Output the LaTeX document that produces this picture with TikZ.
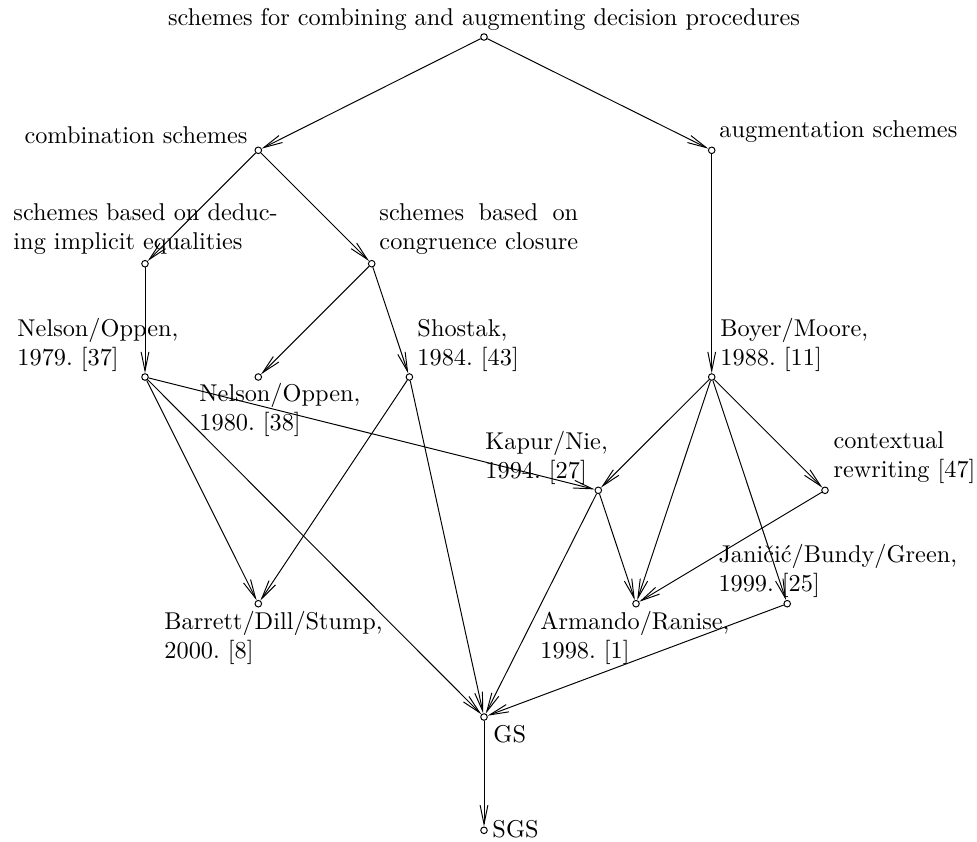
\documentclass[tikz,border=0pt]{standalone}
\usepackage{calc}
\usetikzlibrary{arrows.meta}
\begin{document}
\begin{tikzpicture}[x=0.4115pt,y=-0.4115pt,
  every node/.append style={font=\frenchspacing},
  pt/.style={circle,draw,inner sep=0pt,minimum size=2.7pt,line width=0.4pt},
  edge/.style={-{Straight Barb[length=7.8pt,width=3.2pt]},line width=0.4pt},
  lbl/.style={inner sep=0pt,anchor=north west,align=left},
  one/.style={inner sep=0pt}]
\useasboundingbox (0,0) rectangle (977,841);
% points
\node[pt] (top) at (484,37) {};
\node[pt] (comb) at (258.3,150.3) {};
\node[pt] (aug) at (711.7,150.3) {};
\node[pt] (ded) at (145,263.7) {};
\node[pt] (cong) at (371.7,263.7) {};
\node[pt] (no79) at (145,377) {};
\node[pt] (no80) at (258.3,377) {};
\node[pt] (sho) at (409.4,377) {};
\node[pt] (bm) at (711.7,377) {};
\node[pt] (kap) at (598.3,490.3) {};
\node[pt] (ctx) at (825,490.3) {};
\node[pt] (bar) at (258.3,603.7) {};
\node[pt] (arm) at (636,603.7) {};
\node[pt] (jan) at (787.2,603.7) {};
\node[pt] (gs) at (484,717) {};
\node[pt] (sgs) at (484,830.3) {};
% labels
\node[one,anchor=base] (t0) at (484,25) {schemes for combining and augmenting decision procedures};
\node[one,anchor=base east] (t1) at (248,143) {combination schemes};
\node[one,anchor=base west] (t2) at (719,137) {augmentation schemes};
\node[lbl] (t3) at (13,199.6) {\strut schemes based on deduc-\\ing implicit equalities};
\node[lbl] (t4) at (379,199.6) {\strut\makebox[\widthof{congruence closure}][s]{schemes based on}\\congruence closure};
\node[lbl] (t5) at (17,315.6) {\strut Nelson/Oppen,\\1979. [37]};
\node[lbl] (t6) at (199,380.6) {\strut Nelson/Oppen,\\1980. [38]};
\node[lbl] (t7) at (417,315.6) {\strut Shostak,\\1984. [43]};
\node[lbl] (t8) at (720,315.6) {\strut Boyer/Moore,\\1988. [11]};
\node[lbl] (t9) at (485,428.6) {\strut Kapur/Nie,\\1994. [27]};
\node[lbl] (t10) at (833,427.6) {\strut contextual\\rewriting [47]};
\node[lbl] (t11) at (718,541.6) {\strut Janičić/Bundy/Green,\\1999. [25]};
\node[lbl] (t12) at (164,608.6) {\strut Barrett/Dill/Stump,\\2000. [8]};
\node[lbl] (t13) at (540,608.6) {\strut Armando/Ranise,\\1998. [1]};
\node[one,anchor=base west] (t14) at (493,742) {GS};
\node[one,anchor=base west] (t15) at (492,837) {SGS};
% edges
\draw[edge] (top) -- (comb);
\draw[edge] (top) -- (aug);
\draw[edge] (comb) -- (ded);
\draw[edge] (comb) -- (cong);
\draw[edge] (aug) -- (bm);
\draw[edge] (ded) -- (no79);
\draw[edge] (cong) -- (no80);
\draw[edge] (cong) -- (sho);
\draw[edge] (no79) -- (kap);
\draw[edge] (no79) -- (bar);
\draw[edge] (no79) -- (gs);
\draw[edge] (sho) -- (bar);
\draw[edge] (sho) -- (gs);
\draw[edge] (bm) -- (kap);
\draw[edge] (bm) -- (arm);
\draw[edge] (bm) -- (jan);
\draw[edge] (bm) -- (ctx);
\draw[edge] (kap) -- (arm);
\draw[edge] (kap) -- (gs);
\draw[edge] (ctx) -- (arm);
\draw[edge] (jan) -- (gs);
\draw[edge] (gs) -- (sgs);
\end{tikzpicture}
\end{document}
